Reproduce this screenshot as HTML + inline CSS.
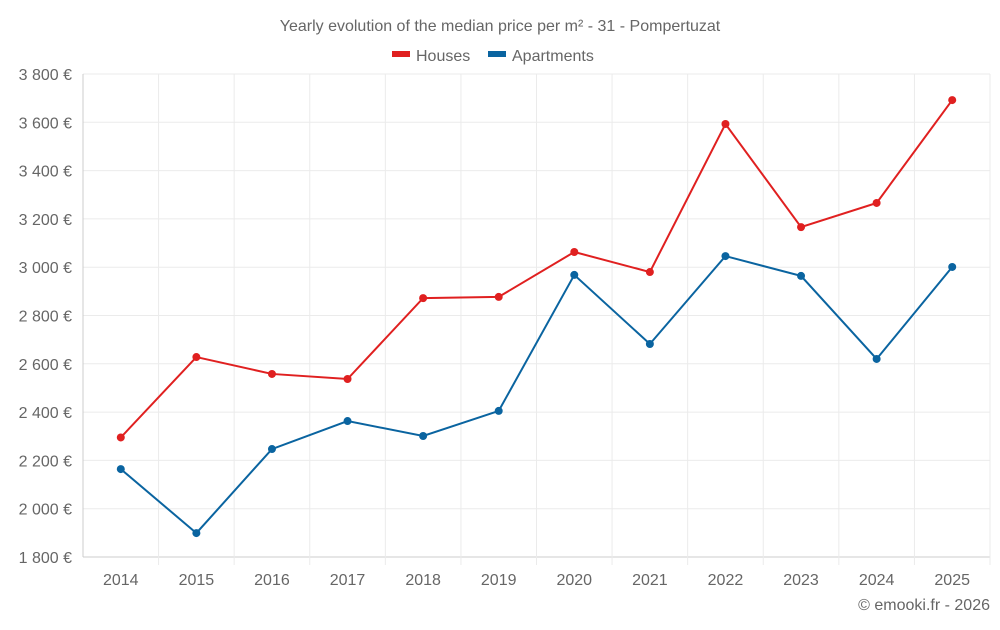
<!DOCTYPE html>
<html><head><meta charset="utf-8"><style>
body{margin:0;background:#fff;font-family:"Liberation Sans",sans-serif}
text{font-family:"Liberation Sans",sans-serif;fill:#666}
</style></head><body>
<svg id="chart" width="1000" height="625">
<text x="500" y="31" text-anchor="middle" font-size="16">Yearly evolution of the median price per m² - 31 - Pompertuzat</text>
<g>
<g><rect x="392" y="51" width="18" height="6" fill="#e02020"/><text x="416" y="61" font-size="16">Houses</text></g>
<g><rect x="488" y="51" width="18" height="6" fill="#0a64a0"/><text x="512" y="61" font-size="16">Apartments</text></g>
</g>
<g id="grid"></g><g id="axes"></g><g id="series"></g>
<text x="990" y="610" text-anchor="end" font-size="16">© emooki.fr - 2026</text>
</svg>
<script>
const years=["2014","2015","2016","2017","2018","2019","2020","2021","2022","2023","2024","2025"];
const houses=[2295,2628,2558,2537,2872,2877,3063,2980,3593,3166,3266,3692];
const apartments=[2164,1899,2247,2363,2301,2405,2968,2682,3046,2964,2620,3001];
const yTicks=[1800,2000,2200,2400,2600,2800,3000,3200,3400,3600,3800];
const L=83,R=990,T=74,B=557,yMin=1800,yMax=3800;
const NS="http://www.w3.org/2000/svg";
const step=(R-L)/years.length;
const x=i=>L+step*(i+0.5);
const y=v=>B-(v-yMin)/(yMax-yMin)*(B-T);
function mk(tag,attrs,parent){const e=document.createElementNS(NS,tag);for(const k in attrs)e.setAttribute(k,attrs[k]);document.getElementById(parent).appendChild(e);return e;}
yTicks.forEach(t=>{
 const l=mk('line',{x1:L,x2:R,y1:y(t),y2:y(t),stroke:t===yMin?'#ccc':'#ebebeb'},'grid');
 
 
 const tx=mk('text',{x:72,y:y(t)+6,'text-anchor':'end','font-size':16},'axes');
 tx.textContent=t.toLocaleString('en').replace(',',' ')+' €';
 
 
});
for(let i=0;i<=years.length;i++){
 const l=mk('line',{x1:L+step*i,x2:L+step*i,y1:T,y2:i===0?B:B+8,stroke:i===0?'#ccc':'#ebebeb'},'grid');
 
 
}
years.forEach((yr,i)=>{
 const tx=mk('text',{x:x(i),y:585,'text-anchor':'middle','font-size':16},'axes');
 tx.textContent=yr;
 
 
});
function series(vals,color,name){
 const p=mk('polyline',{points:vals.map((v,i)=>x(i)+','+y(v)).join(' '),fill:'none',stroke:color,'stroke-width':2},'series');
 
 
 vals.forEach((v,i)=>{
  const c=mk('circle',{cx:x(i),cy:y(v),r:4,fill:color},'series');
  
  
 });
}
series(houses,'#e02020','houses');
series(apartments,'#0a64a0','apartments');
</script>
</body></html>
